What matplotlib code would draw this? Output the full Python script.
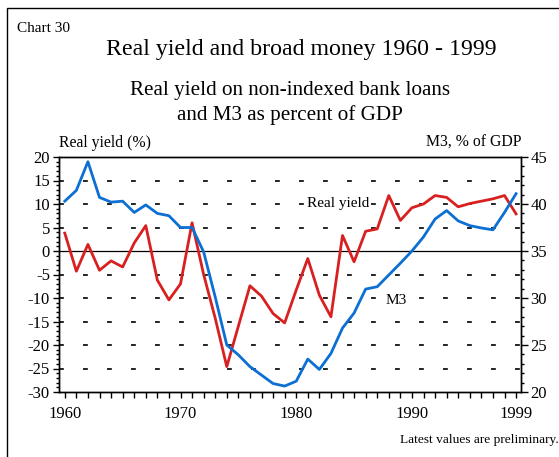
import matplotlib
matplotlib.use("Agg")
import matplotlib.pyplot as plt
from matplotlib.patches import Rectangle
from matplotlib.ticker import MultipleLocator

plt.rcParams['font.family'] = ['Liberation Serif', 'DejaVu Serif']
plt.rcParams['axes.unicode_minus'] = False

years = list(range(1960, 2000))

# Real yield on non-indexed bank loans (%), left axis
real_yield = [3.8, -4.3, 1.4, -4.1, -2.1, -3.4, 1.7, 5.4, -6.2, -10.4,
              -7.0, 6.0, -5.0, -14.3, -24.6, -16.0, -7.4, -9.6, -13.3, -15.3,
              -8.3, -1.6, -9.4, -14.0, 3.3, -2.3, 4.2, 4.7, 11.8, 6.5,
              9.2, 10.0, 11.8, 11.4, 9.4, 10.1, 10.6, 11.1, 11.8, 7.9]

# M3 as percent of GDP, right axis
m3 = [40.3, 41.45, 44.5, 40.7, 40.2, 40.3, 39.1, 39.9, 39.0, 38.75,
      37.5, 37.5, 34.9, 30.1, 25.0, 23.95, 22.7, 21.8, 20.9, 20.63,
      21.15, 23.5, 22.4, 24.1, 26.8, 28.4, 30.95, 31.2, 32.45, 33.7,
      35.0, 36.5, 38.4, 39.3, 38.2, 37.7, 37.45, 37.25, 39.1, 41.1]

label_years = [1960, 1970, 1980, 1990, 1999]

W, H = 559, 457
fig = plt.figure(figsize=(W / 100, H / 100), dpi=100)

# frame round the chart
fig.patches.append(Rectangle((6.5 / W, -0.1), 1.2, 1.1 - 8 / H, transform=fig.transFigure,
                             fill=False, lw=1.0, ec='black'))

left, right, top, bottom = 59, 520.7, 157, 392
ax = fig.add_axes([left / W, 1 - bottom / H, (right - left) / W, (bottom - top) / H])
ax2 = ax.twinx()

red = '#d92020'
blue = '#0b6fd3'

ax.set_xlim(1959.5, 1999.4)
ax.set_ylim(-30, 20)
ax2.set_ylim(20, 45)

# grid and zero line
for v in range(-25, 21, 5):
    if v == 0:
        continue
    ax.axhline(v, color='black', lw=1.2, ls=(0, (2.9, 11.5)), zorder=1)
ax.axhline(0, color='black', lw=0.9, zorder=1)

ax.plot(years, real_yield, color=red, lw=2.0, zorder=3)
ax2.plot(years, m3, color=blue, lw=2.0, zorder=3)

# axes ticks
ax.set_xticks(years)
ax.set_xticklabels([str(y) if y in label_years else '' for y in years])
ax.set_yticks(range(-30, 21, 5))
ax.yaxis.set_minor_locator(MultipleLocator(1))
ax2.set_yticks(range(20, 46, 5))
ax2.yaxis.set_minor_locator(MultipleLocator(1))

ax.tick_params(axis='x', direction='out', length=4, width=1, labelsize=12, pad=6)
ax.tick_params(axis='y', which='major', direction='out', length=4.5, width=1, labelsize=12, pad=2)
ax.tick_params(axis='y', which='minor', direction='out', length=2.5, width=1)
ax2.tick_params(axis='y', which='major', direction='out', length=5, width=1, labelsize=12, pad=2)
ax2.tick_params(axis='y', which='minor', direction='out', length=2.5, width=1)

for a in (ax, ax2):
    for s in a.spines.values():
        s.set_linewidth(1.0)

# series labels
box = dict(facecolor='white', edgecolor='none', pad=1.5)
ax.text(1983.6, 10, 'Real yield', fontsize=11, ha='center', va='center', bbox=box, zorder=4)
ax.text(1988.6, -10.5, 'M3', fontsize=11, ha='center', va='center', bbox=box, zorder=4)

# titles and notes
fig.text(17 / W, 1 - 28 / H, 'Chart 30', fontsize=11, ha='left', va='center')
fig.text(301 / W, 1 - 50 / H, 'Real yield and broad money 1960 - 1999', fontsize=17.2,
         ha='center', va='center')
fig.text(290 / W, 1 - 103 / H, 'Real yield on non-indexed bank loans\nand M3 as percent of GDP',
         fontsize=15.2, ha='center', va='center', linespacing=1.35)
fig.text(left / W, 1 - 143 / H, 'Real yield (%)', fontsize=11.3, ha='left', va='center')
fig.text(521 / W, 1 - 143 / H, 'M3, % of GDP', fontsize=11.3, ha='right', va='center')
fig.text(0.999, 1 - 440 / H, 'Latest values are preliminary.', fontsize=9.6, ha='right', va='center')

fig.savefig('out.png', dpi=100)
